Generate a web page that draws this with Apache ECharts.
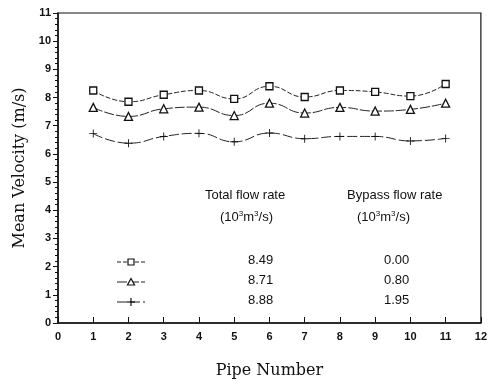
<!DOCTYPE html>
<html><head><meta charset="utf-8">
<script src="https://cdn.jsdelivr.net/npm/echarts@6/dist/echarts.min.js"></script>
<style>html,body{margin:0;padding:0;background:#fff}#c{width:490px;height:384px}</style>
</head><body><div id="c"></div>
<script>
const pipes = [1,2,3,4,5,6,7,8,9,10,11];
const velSquare   = [8.25,7.85,8.1,8.25,7.95,8.4,8.02,8.25,8.2,8.05,8.48];
const velTriangle = [7.65,7.33,7.6,7.66,7.36,7.8,7.45,7.65,7.52,7.58,7.8];
const velPlus     = [6.72,6.38,6.62,6.73,6.43,6.74,6.54,6.62,6.62,6.46,6.55];
const xTicks = [0,1,2,3,4,5,6,7,8,9,10,11,12];
const yTicks = [0,1,2,3,4,5,6,7,8,9,10,11];
const totalFlow = ['8.49','8.71','8.88'];
const bypassFlow = ['0.00','0.80','1.95'];

const plusPath = 'path://M4.45,0h1.1v4.45h4.45v1.1h-4.45v4.45h-1.1v-4.45h-4.45v-1.1h4.45z';
const chart = echarts.init(document.getElementById('c'));
const tickFont = {fontFamily:'Liberation Sans', fontSize:11, fontWeight:'bold', color:'#111'};
function mk(name, data, symbol, size, dash, fill, bw){
  return {name, type:'line', smooth:0.5, data: pipes.map((p,i)=>[p,data[i]]),
    symbol, symbolSize:size, showSymbol:true,
    lineStyle:{color:'#222', width:1, type:dash},
    itemStyle:{color:fill, borderColor:'#111', borderWidth:bw}, z:3};
}
const F = '13px Liberation Sans';
const lx = 117, rows=[262,282,302];
const rich = {a:{font:F, fill:'#111'}, s:{font:'8px Liberation Sans', fill:'#111', verticalAlign:'top', padding:[0,0,7,0]}};
const graphic = [
  {type:'text', left:205, top:189, style:{text:'Total flow rate', font:F, fill:'#111'}},
  {type:'text', left:347, top:189, style:{text:'Bypass flow rate', font:F, fill:'#111'}},
  {type:'text', left:220, top:210, style:{rich, text:'{a|(10}{s|3}{a|m}{s|3}{a|/s)}'}},
  {type:'text', left:357, top:210, style:{rich, text:'{a|(10}{s|3}{a|m}{s|3}{a|/s)}'}}
];
const styles = [[4,2],[10,2],[10,3]];
rows.forEach((y,i)=>{
  graphic.push({type:'line', shape:{x1:lx, y1:y, x2:lx+28, y2:y}, style:{stroke:'#222', lineWidth:1, lineDash:styles[i]}});
  graphic.push({type:'text', left:248, top:y-8, style:{text:totalFlow[i], font:F, fill:'#111'}});
  graphic.push({type:'text', left:384, top:y-8, style:{text:bypassFlow[i], font:F, fill:'#111'}});
});
graphic.push({type:'rect', shape:{x:lx+11, y:rows[0]-3, width:6, height:6}, style:{fill:'#fff', stroke:'#111', lineWidth:1.2}});
graphic.push({type:'polygon', shape:{points:[[lx+14,rows[1]-3.5],[lx+17.5,rows[1]+3],[lx+10.5,rows[1]+3]]}, style:{fill:'#fff', stroke:'#111', lineWidth:1.2}});
graphic.push({type:'rect', shape:{x:lx+10, y:rows[2]-0.6, width:8, height:1.2}, style:{fill:'#111'}});
graphic.push({type:'rect', shape:{x:lx+13.4, y:rows[2]-4, width:1.2, height:8}, style:{fill:'#111'}});

chart.setOption({
  animation:false,
  backgroundColor:'#fff',
  grid:{left:58, right:5, top:13, bottom:60, show:true, borderColor:'#111', borderWidth:1.2},
  xAxis:{type:'value', min:0, max:12, interval:1,
    name:'Pipe Number', nameLocation:'middle', nameGap:40,
    nameTextStyle:{fontFamily:'DejaVu Serif', fontSize:16, color:'#111'},
    axisLine:{lineStyle:{color:'#111', width:1.5}},
    axisTick:{inside:true, length:6, lineStyle:{color:'#111'}},
    axisLabel:Object.assign({margin:8, formatter:v=>xTicks.includes(v)?String(v):''}, tickFont),
    splitLine:{show:false}},
  yAxis:{type:'value', min:0, max:11, interval:1,
    name:'Mean Velocity (m/s)', nameLocation:'middle', nameGap:28,
    nameTextStyle:{fontFamily:'DejaVu Serif', fontSize:16, color:'#111'},
    axisLine:{lineStyle:{color:'#111', width:1.5}},
    axisTick:{length:5, lineStyle:{color:'#111'}},
    minorTick:{show:true, splitNumber:5, length:3, lineStyle:{color:'#111'}},
    axisLabel:Object.assign({margin:7, formatter:v=>yTicks.includes(v)?String(v):''}, tickFont),
    splitLine:{show:false}},
  series:[
    mk('s', velSquare, 'rect', 7, [5,2], '#fff', 1.3),
    mk('t', velTriangle, 'triangle', 8, [10,2], '#fff', 1.3),
    mk('p', velPlus, plusPath, 8, [10,3], '#111', 0)
  ],
  graphic
});
</script></body></html>
